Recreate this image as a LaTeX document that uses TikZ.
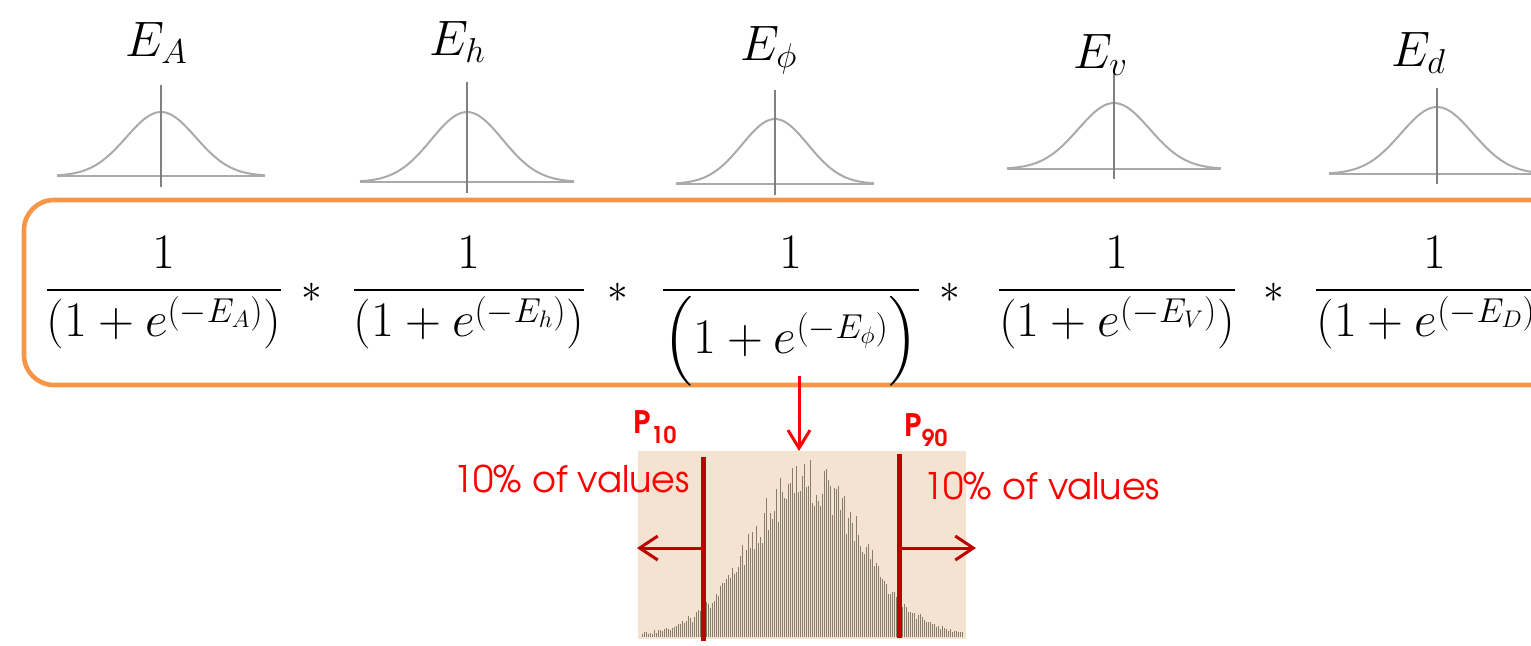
\documentclass[tikz,border=0pt]{standalone}
\usepackage{amsmath}
\usepackage{fontspec}
\usetikzlibrary{arrows.meta,positioning}

\newfontfamily\gothicfont{texgyreadventor}[Extension=.otf,UprightFont=*-regular,BoldFont=*-bold]

\definecolor{boxorange}{RGB}{247,150,70}
\definecolor{histbg}{RGB}{243,227,208}
\definecolor{histgray}{RGB}{135,125,110}
\definecolor{cutred}{RGB}{192,0,0}
\definecolor{bellgray}{RGB}{170,170,170}

\begin{document}
\begin{tikzpicture}[
    x=0.5pt, y=-0.5pt,
    elabel/.style={anchor=base west,inner sep=0pt,font=\fontsize{23}{28}\selectfont},
    factor/.style={anchor=base,inner sep=0pt,font=\fontsize{25}{30}\selectfont},
    times/.style={anchor=base,inner sep=0pt,font=\fontsize{20}{24}\selectfont},
    bell/.style={bellgray,line width=1pt},
    bellaxis/.style={gray,line width=1pt},
    exprbox/.style={boxorange,line width=2.3pt,rounded corners=15pt},
    map/.style={-{Straight Barb[length=9pt,width=11pt]},red,line width=1.5pt},
    cut/.style={cutred,line width=2.5pt},
    tail/.style={-{Straight Barb[length=9pt,width=12pt]},cutred,line width=1.5pt},
    histbar/.style={histgray,line width=0.45pt},
    pct/.style={inner sep=0pt,text=red,font=\gothicfont\fontsize{18.3}{22}\selectfont},
    plabel/.style={anchor=base west,inner sep=0pt,text=red,font=\gothicfont\bfseries\fontsize{15.5}{18}\selectfont},
]
\useasboundingbox (0,0) rectangle (1531,645);

%----------------------------------
% Error distributions
%----------------------------------

\foreach \cx/\hw/\yb/\ypk/\ytop/\ybot in {161/104/176/112/85/187,
    467/107/182/112/82/193, 775/99/184/119/90/195,
    1114/107/169/103/74/179, 1437/108/174/107/88/184} {
  \draw[bell] (\cx-\hw,\yb) -- (\cx+\hw,\yb);
  \draw[bell] plot[domain=-3:3,samples=60]
    ({\cx+\x*\hw/3},{\yb-(\yb-\ypk)*exp(-0.5*\x*\x)});
  \draw[bellaxis] (\cx,\ytop) -- (\cx,\ybot);
}

\node[elabel] (eA) at (125,56) {$E_A$};
\node[elabel] (eH) at (429,55) {$E_h$};
\node[elabel] (ePhi) at (740,60) {$E_\phi$};
\node[elabel] (eV) at (1073,68) {$E_v$};
\node[elabel] (eD) at (1391,66) {$E_d$};

%----------------------------------
% Product of logistic terms
%----------------------------------

\draw[exprbox] (24,200) rectangle (1600,385);

\node[factor] (fA) at (164,302) {$\dfrac{1}{(1+e^{(-E_A)})}$};
\node[factor] (fH) at (469,302) {$\dfrac{1}{(1+e^{(-E_h)})}$};
\node[factor] (fPhi) at (791,302) {$\dfrac{1}{\Bigl(1+e^{(-E_\phi)}\Bigr)}$};
\node[factor] (fV) at (1117,302) {$\dfrac{1}{(1+e^{(-E_V)})}$};
\node[factor] (fD) at (1435,302) {$\dfrac{1}{(1+e^{(-E_D)})}$};

\node[times] (t1) at (312,302) {$\ast$};
\node[times] (t2) at (618,302) {$\ast$};
\node[times] (t3) at (950,302) {$\ast$};
\node[times] (t4) at (1274,302) {$\ast$};

%----------------------------------
% Resulting histogram
%----------------------------------

\fill[histbg] (638,451) rectangle (966,639);

\pgfmathsetseed{12}
\foreach \i in {0,...,160} {
  \pgfmathsetmacro{\hx}{642+2*\i}
  \pgfmathsetmacro{\hh}{160*exp(-0.5*((\hx-806)/55)^2)*(0.8+0.32*rnd)+3*rnd}
  \draw[histbar] (\hx,637) -- (\hx,637-\hh);
}

\coordinate (tap) at (799,376);
\coordinate (htop) at (799,451);
\draw[map] (tap) -- (htop);

\coordinate (p10top) at (703,457);
\coordinate (p10bot) at (703,641);
\coordinate (p10mid) at (703,548);
\coordinate (lowtip) at (637,548);
\coordinate (p90top) at (899,454);
\coordinate (p90bot) at (899,638);
\coordinate (p90mid) at (899,548);
\coordinate (hightip) at (976,548);

\draw[cut] (p10top) -- (p10bot);
\draw[cut] (p90top) -- (p90bot);
\draw[tail] (p10mid) -- (lowtip);
\draw[tail] (p90mid) -- (hightip);

\node[plabel] (p10) at (633,433) {P\raisebox{-5pt}{\fontsize{11.5}{13}\selectfont 10}};
\node[plabel] (p90) at (904,436) {P\raisebox{-5pt}{\fontsize{11.5}{13}\selectfont 90}};

\node[pct,anchor=base east] (lowpct) at (690,492) {10\% of values};
\node[pct,anchor=base west] (highpct) at (923,499) {10\% of values};

\end{tikzpicture}
\end{document}
